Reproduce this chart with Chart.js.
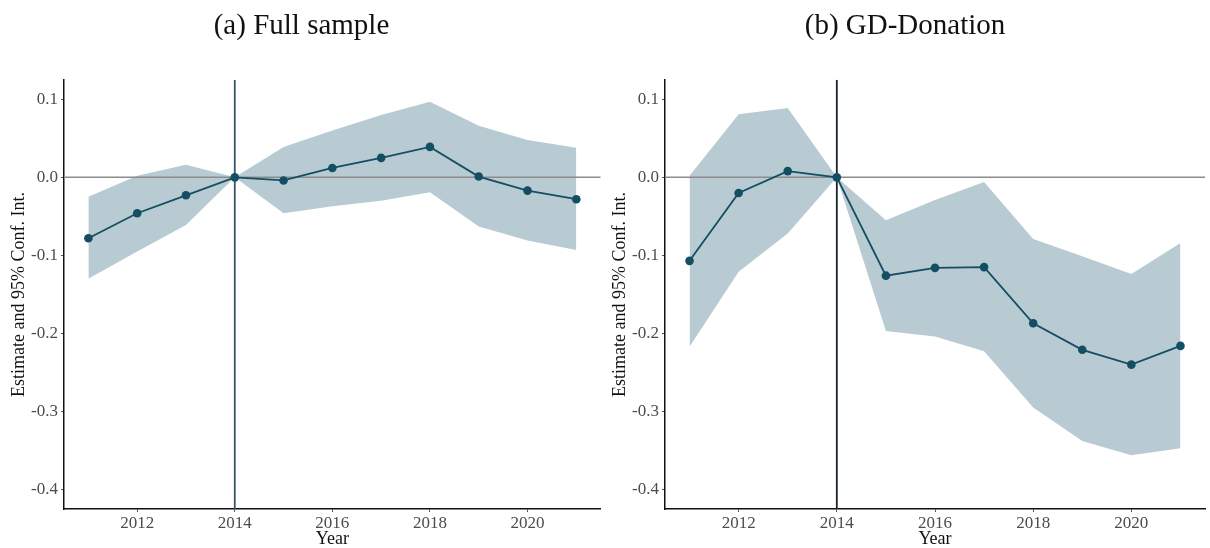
<!DOCTYPE html>
<html>
<head>
<meta charset="utf-8">
<script src="https://cdn.jsdelivr.net/npm/chart.js@4.4.1/dist/chart.umd.min.js"></script>
<style>
  html, body { margin: 0; padding: 0; background: #fff; }
  .panel { position: absolute; top: 0; width: 605px; height: 548px; }
  #panelA { left: 0; }
  #panelB { left: 605px; }
</style>
</head>
<body>
<div class="panel" id="panelA"><canvas id="chartA" width="605" height="548"></canvas></div>
<div class="panel" id="panelB"><canvas id="chartB" width="605" height="548"></canvas></div>
<script>
/* data */
let years = [2011, 2012, 2013, 2014, 2015, 2016, 2017, 2018, 2019, 2020, 2021];

let fullEst = [-0.078, -0.046, -0.023, 0, -0.004, 0.012, 0.025, 0.039, 0.001, -0.017, -0.028];
let fullUpper = [-0.025, 0.002, 0.016, 0, 0.039, 0.060, 0.080, 0.097, 0.066, 0.048, 0.038];
let fullLower = [-0.130, -0.095, -0.061, 0, -0.046, -0.037, -0.030, -0.019, -0.063, -0.081, -0.093];

let gdEst = [-0.107, -0.020, 0.008, 0, -0.126, -0.116, -0.115, -0.187, -0.221, -0.240, -0.216];
let gdUpper = [0.002, 0.081, 0.089, 0, -0.055, -0.029, -0.006, -0.079, -0.101, -0.124, -0.084];
let gdLower = [-0.217, -0.121, -0.072, 0, -0.197, -0.204, -0.223, -0.295, -0.338, -0.356, -0.347];

let xTicks = [2012, 2014, 2016, 2018, 2020];
let yTicks = [-0.4, -0.3, -0.2, -0.1, 0, 0.1];
let eventYear = 2014;

let xMin = 2010.5, xMax = 2021.5;
let yMin = -0.425, yMax = 0.125;

let serif = "'Liberation Serif', 'Times New Roman', serif";

function toPoints(values) {
  return years.map((yr, i) => ({ x: yr, y: values[i] }));
}

/* build one panel */
function makePanel(canvasId, title, est, upper, lower, opts) {
  let ctx = document.getElementById(canvasId).getContext('2d');
  return new Chart(ctx, {
    type: 'line',
    data: {
      datasets: [{
        label: 'Estimate',
        data: toPoints(est),
        borderColor: '#134e63',
        backgroundColor: '#134e63',
        borderWidth: 1.8,
        pointRadius: 4.3,
        pointBorderWidth: 0,
        fill: false,
        order: 0
      }, {
        label: 'event',
        data: [{ x: eventYear, y: yMin }, { x: eventYear, y: yMax }],
        borderColor: opts.vlineColor,
        borderWidth: 1.8,
        pointRadius: 0,
        fill: false,
        order: 1
      }, {
        label: 'zero',
        data: [{ x: xMin, y: 0 }, { x: xMax, y: 0 }],
        borderColor: '#8c8c8c',
        borderWidth: 1.5,
        pointRadius: 0,
        fill: false,
        order: 2
      }, {
        label: 'lower',
        data: toPoints(lower),
        borderWidth: 0,
        borderColor: 'rgba(0,0,0,0)',
        pointRadius: 0,
        fill: false,
        order: 4
      }, {
        label: 'upper',
        data: toPoints(upper),
        borderWidth: 0,
        borderColor: 'rgba(0,0,0,0)',
        backgroundColor: '#b8cbd3',
        pointRadius: 0,
        fill: '-1',
        order: 3
      }]
    },
    options: {
      responsive: false,
      animation: false,
      layout: { padding: { left: 0, right: opts.rightPad, top: 0, bottom: 0 } },
      plugins: {
        legend: { display: false },
        tooltip: { enabled: false },
        title: {
          display: true,
          text: title,
          color: '#111',
          font: { family: serif, size: 29, weight: 'normal' },
          padding: { top: 9, bottom: 36 }
        }
      },
      scales: {
        x: {
          type: 'linear',
          min: xMin,
          max: xMax,
          afterBuildTicks: function (scale) {
            scale.ticks = xTicks.map(v => ({ value: v }));
          },
          afterFit: function (scale) { scale.height = 39; },
          ticks: {
            color: '#4d4d4d',
            font: { family: serif, size: 17 },
            padding: 1,
            maxRotation: 0,
            callback: v => String(v)
          },
          grid: { drawOnChartArea: false, tickLength: 3, color: '#555' },
          border: { color: '#111', width: 1.5 },
          title: {
            display: true,
            text: 'Year',
            color: '#111',
            font: { family: serif, size: 18 },
            padding: { top: 0, bottom: -2 }
          }
        },
        y: {
          type: 'linear',
          min: yMin,
          max: yMax,
          afterBuildTicks: function (scale) {
            scale.ticks = yTicks.map(v => ({ value: v }));
          },
          afterFit: function (scale) { scale.width = opts.yWidth; },
          ticks: {
            color: '#4d4d4d',
            font: { family: serif, size: 17 },
            padding: 3,
            callback: v => v.toFixed(1)
          },
          grid: { drawOnChartArea: false, tickLength: 3, color: '#555' },
          border: { color: '#111', width: 1.5 },
          title: {
            display: true,
            text: 'Estimate and 95% Conf. Int.',
            color: '#111',
            font: { family: serif, size: 18 },
            padding: { top: opts.titlePad, bottom: 0 }
          }
        }
      }
    }
  });
}

makePanel('chartA', '(a) Full sample', fullEst, fullUpper, fullLower,
  { vlineColor: '#3a5461', rightPad: 2, yWidth: 64, titlePad: 8 });
makePanel('chartB', '(b) GD-Donation', gdEst, gdUpper, gdLower,
  { vlineColor: '#15242d', rightPad: 5, yWidth: 60, titlePad: 4 });
</script>
</body>
</html>
